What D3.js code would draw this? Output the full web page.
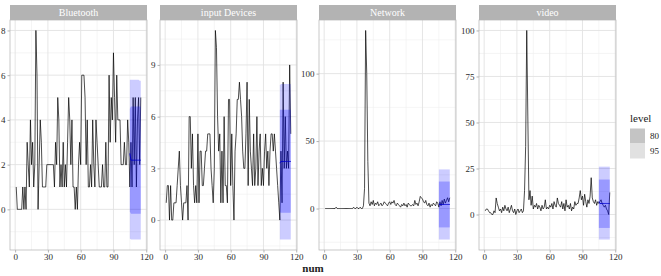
<!DOCTYPE html>
<html>
<head>
<meta charset="utf-8">
<script src="https://cdn.jsdelivr.net/npm/d3@7"></script>
<style>
  body { margin: 0; background: #fff; }
  text { font-family: "Liberation Serif", "DejaVu Serif", serif; }
</style>
</head>
<body>
<div id="chart"></div>
<script>
// observations 1..115
var num = d3.range(1, 116);

var bluetooth = [
  1,0,0,0,0,0,1,0,1,0, 3,2,1,4,2,3,1,2,8,6, 0,2,4,3,1,1,1,1,2,2,
  2,2,2,2,2,1,3,2,5,4, 1,2,1,3,1,2,1,3,5,4, 2,4,1,1,0,1,0,2,3,2,
  6,6,6,5,2,4,1,1,2,1, 4,2,1,4,3,2,1,1,1,2, 1,1,3,1,1,6,3,5,4,7,
  5,3,6,4,4,4,2,2,2,3, 2,2,4,3,1,3,1,5,2,5, 1,4,5,2,5
];
var inputDevices = [
  1,2,2,0,2,0,0,1,1,1, 2,3,4,2,1,0,1,1,1,2, 0,6,6,3,5,2,1,2,1,5,
  1,4,4,2,2,3,4,4,5,5, 5,3,2,1,3,11,10,6,4,5, 1,4,1,6,2,2,1,7,7,2,
  5,2,0,4,5,7,7,8,7,6, 4,3,3,5,8,2,7,4,3,2, 5,2,3,6,2,4,5,2,3,2,
  4,5,3,4,2,4,5,5,4,5, 4,3,2,1,0,4,1,8,3,6, 3,4,3,9,5
];
var network = [
  0,0,0,0,0,0,0,0,0,0, 1,0,0,0,0,0,0,0,0,0, 0,0,0,0,0,0,1,0,0,1,
  0,0,1,0,0,2,15,132,100,35, 4,2,5,3,6,2,4,3,5,2, 3,4,2,3,5,4,3,2,4,5,
  3,5,4,6,3,2,4,3,2,1, 3,2,4,2,3,1,4,3,2,2, 3,2,6,3,4,2,5,9,8,7,
  5,4,6,3,2,4,1,3,2,4, 3,2,5,4,1,5,2,6,3,7, 4,6,8,5,8
];
var video = [
  2,3,3,2,1,1,0,0,2,1, 9,6,4,2,3,1,4,2,5,3, 2,4,1,3,5,2,1,3,0,2,
  3,1,2,3,1,2,13,37,100,53, 8,13,5,10,3,5,4,6,3,5, 4,2,5,3,4,8,3,4,3,5,
  4,6,3,7,5,4,9,6,5,4, 7,3,6,2,8,4,5,3,6,2, 4,3,7,5,6,6,9,13,8,10,
  5,11,7,4,8,6,10,20,9,7, 6,8,5,7,6,7,8,6,5,4, 5,3,2,0,12
];

// forecast horizon
var fcNum = d3.range(105, 116);
var btMean = [2.5,2.2,2.2,2.2,2.2,2.2,2.2,2.2,2.2,2.2,2.2];
var btLo80 = [-0.1,-0.2,-0.2,-0.2,-0.2,-0.2,-0.2,-0.2,-0.2,-0.2,-0.2];
var btHi80 = [4.5,4.6,4.6,4.6,4.6,4.6,4.6,4.6,4.6,4.6,4.6];
var btLo95 = [-1.3,-1.35,-1.35,-1.35,-1.35,-1.35,-1.35,-1.35,-1.35,-1.35,-1.35];
var btHi95 = [5.8,5.8,5.8,5.8,5.8,5.8,5.8,5.8,5.8,5.75,5.75];

var idMean = [3.3,3.4,3.4,3.4,3.4,3.4,3.4,3.4,3.4,3.4,3.4];
var idLo80 = [0.45,0.43,0.43,0.43,0.43,0.43,0.43,0.43,0.43,0.43,0.43];
var idHi80 = [6.4,6.4,6.4,6.4,6.4,6.4,6.4,6.4,6.4,6.4,6.4];
var idLo95 = [-1.13,-1.13,-1.13,-1.13,-1.13,-1.13,-1.13,-1.13,-1.13,-1.13,-1.13];
var idHi95 = [7.8,7.9,7.9,7.9,7.9,7.9,7.9,7.9,7.9,7.9,7.9];

var nwMean = [3,3,3,3,3,3,3,3,3,3,3];
var nwLo80 = [-14,-14,-14,-14,-14,-14,-14,-14,-14,-14,-14];
var nwHi80 = [20,20,20,20,20,20,20,20,20,20,20];
var nwLo95 = [-23,-23,-23,-23,-23,-23,-23,-23,-23,-23,-23];
var nwHi95 = [29,29,29,29,29,29,29,29,29,29,29];

var vdMean = [7,6,6,6,6,6,6,6,6,6,6];
var vdLo80 = [-7.3,-7.3,-7.3,-7.3,-7.3,-7.3,-7.3,-7.3,-7.3,-7.3,-7.3];
var vdHi80 = [19,19,19,19,19,19,19,19,19,19,19];
var vdLo95 = [-13.6,-13.6,-13.6,-13.6,-13.6,-13.6,-13.6,-13.6,-13.6,-13.6,-13.6];
var vdHi95 = [26,26,26,26,26,26,26,26,26,26,26];

var facetNames = ["Bluetooth", "input Devices", "Network", "video"];
var xTicks = [0, 30, 60, 90, 120];
var xMinor = [15, 45, 75, 105];
var btTicks = [0, 2, 4, 6, 8];
var idTicks = [0, 3, 6, 9];
var nwTicks = [0, 50, 100];
var vdTicks = [0, 25, 50, 75, 100];
var levels = ["80", "95"];

var width = 661, height = 276;
var panelW = 137, plotTop = 20, plotBottom = 250;
var panelLeft = [10, 160, 319, 479];

var facets = [
  { name: facetNames[0], v: bluetooth, mean: btMean, lo80: btLo80, hi80: btHi80, lo95: btLo95, hi95: btHi95, ticks: btTicks },
  { name: facetNames[1], v: inputDevices, mean: idMean, lo80: idLo80, hi80: idHi80, lo95: idLo95, hi95: idHi95, ticks: idTicks },
  { name: facetNames[2], v: network, mean: nwMean, lo80: nwLo80, hi80: nwHi80, lo95: nwLo95, hi95: nwHi95, ticks: nwTicks },
  { name: facetNames[3], v: video, mean: vdMean, lo80: vdLo80, hi80: vdHi80, lo95: vdLo95, hi95: vdHi95, ticks: vdTicks }
];

function expand(ext) {
  var pad = (ext[1] - ext[0]) * 0.05;
  return [ext[0] - pad, ext[1] + pad];
}

const svg = d3
  .select("#chart")
  .append("svg")
  .attr("width", width)
  .attr("height", height);

facets.forEach(function (f, i) {
  var left = panelLeft[i];
  var x = d3.scaleLinear()
    .domain(expand([d3.min(num), d3.max(num)]))
    .range([left, left + panelW]);
  var allY = f.v.concat(f.lo95, f.hi95);
  var y = d3.scaleLinear()
    .domain(expand(d3.extent(allY)))
    .range([plotBottom, plotTop]);

  var g = svg.append("g");

  // minor grid
  var step = f.ticks[1] - f.ticks[0];
  var yMinor = [];
  for (var k = f.ticks[0] - step / 2; k <= y.domain()[1]; k += step) {
    if (k >= y.domain()[0]) yMinor.push(k);
  }
  g.selectAll(".ym").data(yMinor).enter().append("line")
    .attr("x1", left).attr("x2", left + panelW)
    .attr("y1", function (d) { return y(d); })
    .attr("y2", function (d) { return y(d); })
    .style("stroke", "#efefef").style("stroke-width", 0.6);
  g.selectAll(".xm").data(xMinor).enter().append("line")
    .attr("y1", plotTop).attr("y2", plotBottom)
    .attr("x1", function (d) { return x(d); })
    .attr("x2", function (d) { return x(d); })
    .style("stroke", "#efefef").style("stroke-width", 0.6);

  // major grid
  g.selectAll(".yM").data(f.ticks).enter().append("line")
    .attr("x1", left).attr("x2", left + panelW)
    .attr("y1", function (d) { return y(d); })
    .attr("y2", function (d) { return y(d); })
    .style("stroke", "#e2e2e2").style("stroke-width", 0.9);
  g.selectAll(".xM").data(xTicks).enter().append("line")
    .attr("y1", plotTop).attr("y2", plotBottom)
    .attr("x1", function (d) { return x(d); })
    .attr("x2", function (d) { return x(d); })
    .style("stroke", "#e2e2e2").style("stroke-width", 0.9);

  // observed series
  g.append("path")
    .datum(f.v)
    .attr("d", d3.line()
      .x(function (d, j) { return x(num[j]); })
      .y(function (d) { return y(d); }))
    .style("fill", "none")
    .style("stroke", "#000")
    .style("stroke-width", 0.7);

  // prediction intervals
  var fc = fcNum.map(function (n, j) {
    return { n: n, mean: f.mean[j], lo80: f.lo80[j], hi80: f.hi80[j], lo95: f.lo95[j], hi95: f.hi95[j] };
  });
  g.append("path").datum(fc)
    .attr("d", d3.area()
      .x(function (d) { return x(d.n); })
      .y0(function (d) { return y(d.lo95); })
      .y1(function (d) { return y(d.hi95); }))
    .style("fill", "#0000ff").style("fill-opacity", 0.2);
  g.append("path").datum(fc)
    .attr("d", d3.area()
      .x(function (d) { return x(d.n); })
      .y0(function (d) { return y(d.lo80); })
      .y1(function (d) { return y(d.hi80); }))
    .style("fill", "#0000ff").style("fill-opacity", 0.25);
  g.append("path").datum(fc)
    .attr("d", d3.line()
      .x(function (d) { return x(d.n); })
      .y(function (d) { return y(d.mean); }))
    .style("fill", "none").style("stroke", "#0000cc").style("stroke-width", 0.9);

  // panel border
  g.append("rect")
    .attr("x", left).attr("y", plotTop)
    .attr("width", panelW).attr("height", plotBottom - plotTop)
    .style("fill", "none").style("stroke", "#b3b3b3").style("stroke-width", 0.7);

  // strip
  g.append("rect")
    .attr("x", left).attr("y", 5)
    .attr("width", panelW).attr("height", 15)
    .style("fill", "#b3b3b3");
  g.append("text")
    .attr("x", left + panelW / 2).attr("y", 12.5)
    .attr("text-anchor", "middle")
    .attr("dominant-baseline", "central")
    .style("fill", "#fff").style("font-size", "10px")
    .text(f.name);

  // axes
  var yAxis = g.append("g")
    .attr("transform", "translate(" + left + ",0)")
    .call(d3.axisLeft(y).tickValues(f.ticks).tickSize(2.5).tickPadding(2));
  var xAxis = g.append("g")
    .attr("transform", "translate(0," + plotBottom + ")")
    .call(d3.axisBottom(x).tickValues(xTicks).tickSize(2.5).tickPadding(1.5));
  [yAxis, xAxis].forEach(function (a) {
    a.select(".domain").remove();
    a.selectAll("line").style("stroke", "#b3b3b3");
    a.selectAll("text").style("fill", "#2b2b2b").style("font-size", "9px")
      .style("font-family", '"Liberation Serif", serif');
  });
});

// x title
svg.append("text")
  .attr("x", 313).attr("y", 272)
  .attr("text-anchor", "middle")
  .style("font-size", "11px").style("font-weight", "bold").style("fill", "#222")
  .text("num");

// legend
svg.append("text")
  .attr("x", 630).attr("y", 122)
  .style("font-size", "11px").style("fill", "#222")
  .text("level");
var keyFill = ["#c4c4c4", "#e1e1e1"];
svg.selectAll(".key").data(levels).enter().append("rect")
  .attr("x", 630)
  .attr("y", function (d, i) { return 128.5 + i * 15; })
  .attr("width", 15).attr("height", 15)
  .style("fill", function (d, i) { return keyFill[i]; });
svg.selectAll(".keylab").data(levels).enter().append("text")
  .attr("x", 650)
  .attr("y", function (d, i) { return 136 + i * 15; })
  .attr("dominant-baseline", "central")
  .style("font-size", "9px").style("fill", "#222")
  .text(function (d) { return d; });
</script>
</body>
</html>
